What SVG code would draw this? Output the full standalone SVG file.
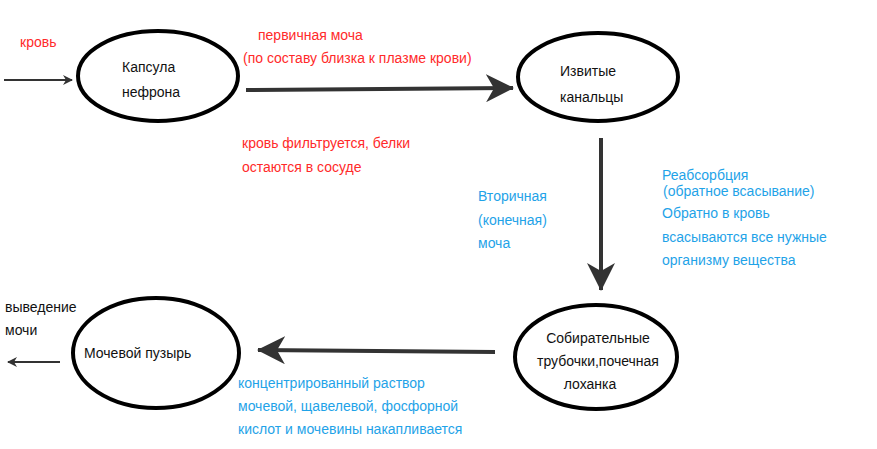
<svg xmlns="http://www.w3.org/2000/svg" width="877" height="449" viewBox="0 0 877 449">
<defs>
<marker id="big" markerWidth="10" markerHeight="10" refX="9" refY="5" orient="auto" markerUnits="userSpaceOnUse" viewBox="0 0 10 10"><path d="M0,0 L10,5 L0,10 L3,5 Z" fill="#333"/></marker>
<marker id="bigA" markerWidth="28" markerHeight="28" refX="27" refY="14" orient="auto" markerUnits="userSpaceOnUse" viewBox="0 0 28 28"><path d="M0,0 L28,14 L0,28 L8,14 Z" fill="#333"/></marker>
</defs>
<style>
text{font-family:"Liberation Sans",Arial,sans-serif;font-size:14px}
.n{fill:#111}
.r{fill:#ff2a2a}
.b{fill:#1fa3e8}
ellipse{fill:#fff;stroke:#000;stroke-width:4}
.c{stroke:#333;fill:none}
</style>
<rect width="877" height="449" fill="#fff"/>
<g id="connectors">
<line class="c" x1="4" y1="80" x2="72" y2="80" stroke-width="2" marker-end="url(#big)"/>
<line class="c" x1="246" y1="90" x2="513" y2="88" stroke-width="4" marker-end="url(#bigA)"/>
<line class="c" x1="601" y1="138" x2="601" y2="290" stroke-width="4" marker-end="url(#bigA)"/>
<line class="c" x1="495" y1="352" x2="258" y2="350" stroke-width="4" marker-end="url(#bigA)"/>
<line class="c" x1="60" y1="362" x2="8" y2="362" stroke-width="2" marker-end="url(#big)"/>
</g>
<g id="capsule"><ellipse cx="158" cy="76" rx="80" ry="45"/><text class="n" x="122" y="72">Капсула</text><text class="n" x="122" y="97">нефрона</text></g>
<g id="tubules"><ellipse cx="598" cy="77" rx="80" ry="44"/><text class="n" x="560" y="76">Извитые</text><text class="n" x="560" y="102">канальцы</text></g>
<g id="collecting"><ellipse cx="596" cy="357" rx="81" ry="52"/><text class="n" text-anchor="middle" x="598" y="343">Собирательные</text><text class="n" text-anchor="middle" x="598" y="366">трубочки,почечная</text><text class="n" text-anchor="middle" x="590" y="389">лоханка</text></g>
<g id="bladder"><ellipse cx="156" cy="353" rx="83" ry="55"/><text class="n" x="84" y="358">Мочевой пузырь</text></g>
<g id="labels">
<text class="r" x="20" y="47">кровь</text>
<text class="r" x="258" y="40">первичная моча</text>
<text class="r" x="243" y="63" font-size="13">(по составу близка к плазме крови)</text>
<text class="r" x="242" y="148">кровь фильтруется, белки</text>
<text class="r" x="242" y="172">остаются в сосуде</text>
<text class="b" x="478" y="201" font-size="13">Вторичная</text>
<text class="b" x="478" y="225" font-size="13">(конечная)</text>
<text class="b" x="478" y="248" font-size="13">моча</text>
<text class="b" x="662" y="180" font-size="16">Реабсорбция</text>
<text class="b" x="663" y="196" font-size="13">(обратное всасывание)</text>
<text class="b" x="662" y="218" font-size="13">Обратно в кровь</text>
<text class="b" x="662" y="242" font-size="13">всасываются все нужные</text>
<text class="b" x="662" y="265" font-size="13">организму вещества</text>
<text class="n" x="5" y="312" font-size="13">выведение</text>
<text class="n" x="5" y="335" font-size="13">мочи</text>
<text class="b" x="238" y="388" font-size="13">концентрированный раствор</text>
<text class="b" x="238" y="411" font-size="13">мочевой, щавелевой, фосфорной</text>
<text class="b" x="238" y="434" font-size="13">кислот и мочевины накапливается</text>
</g>
</svg>
